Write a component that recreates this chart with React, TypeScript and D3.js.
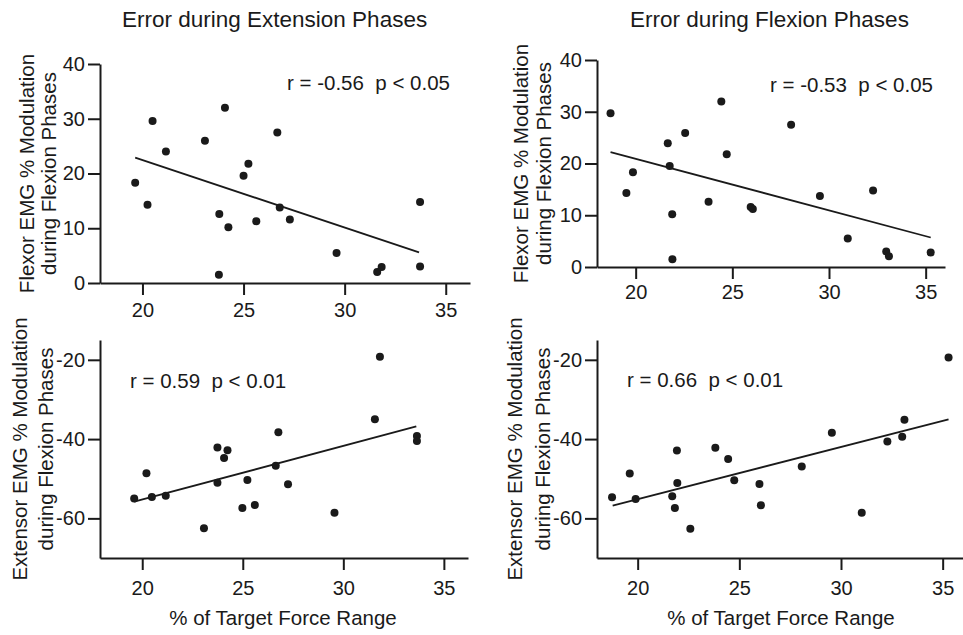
import React, { useEffect, useRef } from 'react';
import * as d3 from 'd3';

// --- data ---
const xTicks = [20, 25, 30, 35];
const flexorTicks = [0, 10, 20, 30, 40];
const extensorTicks = [-20, -40, -60];

// error during extension phases vs flexor EMG
const extFlexorX = [19.64, 20.25, 20.5, 21.16, 23.09, 23.8, 24.08, 24.25, 23.78, 25.0, 25.24, 25.63, 26.67, 26.79, 27.29, 29.6, 31.61, 31.83, 33.73, 33.73];
const extFlexorY = [18.3, 14.3, 29.6, 24.0, 26.0, 12.6, 32.0, 10.2, 1.5, 19.6, 21.8, 11.3, 27.5, 13.8, 11.6, 5.5, 2.0, 2.9, 14.8, 3.0];
const extFlexorFitX = [19.64, 33.68];
const extFlexorFitY = [22.9, 5.6];

// error during flexion phases vs flexor EMG
const flexFlexorX = [18.7, 19.52, 19.86, 21.66, 21.76, 21.89, 21.9, 22.56, 23.77, 24.43, 24.71, 25.95, 26.06, 28.04, 29.53, 30.97, 32.28, 32.96, 33.1, 35.26];
const flexFlexorY = [29.7, 14.3, 18.3, 23.9, 19.5, 10.2, 1.5, 25.9, 12.6, 32.0, 21.8, 11.6, 11.2, 27.5, 13.7, 5.5, 14.8, 3.0, 2.1, 2.8];
const flexFlexorFitX = [18.7, 35.26];
const flexFlexorFitY = [22.2, 5.7];

// error during extension phases vs extensor EMG
const extExtensorX = [19.6, 20.21, 20.48, 21.17, 23.07, 23.74, 23.74, 24.07, 24.24, 24.98, 25.23, 25.6, 26.64, 26.77, 27.25, 29.56, 31.57, 31.82, 33.66, 33.66];
const extExtensorY = [-55.0, -48.6, -54.6, -54.3, -62.5, -42.1, -51.0, -44.8, -42.8, -57.4, -50.3, -56.6, -46.7, -38.3, -51.4, -58.6, -35.0, -19.2, -39.2, -40.5];
const extExtensorFitX = [19.6, 33.63];
const extExtensorFitY = [-55.8, -36.8];

// error during flexion phases vs extensor EMG
const flexExtensorX = [18.74, 19.61, 19.9, 21.7, 21.83, 21.93, 21.95, 22.59, 23.82, 24.45, 24.75, 25.99, 26.06, 28.07, 29.55, 31.02, 32.28, 33.01, 33.12, 35.29];
const flexExtensorY = [-54.7, -48.7, -55.1, -54.4, -57.4, -42.9, -51.1, -62.6, -42.2, -45.0, -50.4, -51.3, -56.7, -46.9, -38.4, -58.6, -40.6, -39.4, -35.1, -19.4];
const flexExtensorFitX = [18.77, 35.29];
const flexExtensorFitY = [-56.8, -35.0];

const titles = ['Error during Extension Phases', 'Error during Flexion Phases'];
const flexorLabel = ['Flexor EMG % Modulation', 'during Flexion Phases'];
const extensorLabel = ['Extensor EMG % Modulation', 'during Flexion Phases'];
const xLabel = '% of Target Force Range';
const stats = ['r = -0.56  p < 0.05', 'r = -0.53  p < 0.05', 'r = 0.59  p < 0.01', 'r = 0.66  p < 0.01'];

const FONT = '"Liberation Sans", Arial, sans-serif';
const INK = '#1a1a1a';

// layout of each panel
const panels = [
  { xs: extFlexorX, ys: extFlexorY, fx: extFlexorFitX, fy: extFlexorFitY, yTicks: flexorTicks,
    xDomain: [17.9, 36.2], xRange: [100, 470], yDomain: [0, 40], yRange: [283, 64], xPad: 8,
    yLabel: flexorLabel, labelX: [34, 56], stat: stats[0], statPos: [287, 90], xTitle: false },
  { xs: flexFlexorX, ys: flexFlexorY, fx: flexFlexorFitX, fy: flexFlexorFitY, yTicks: flexorTicks,
    xDomain: [18, 36], xRange: [597, 945], yDomain: [0, 40], yRange: [267, 60], xPad: 6,
    yLabel: flexorLabel, labelX: [528, 551], stat: stats[1], statPos: [770, 92], xTitle: false },
  { xs: extExtensorX, ys: extExtensorY, fx: extExtensorFitX, fy: extExtensorFitY, yTicks: extensorTicks,
    xDomain: [17.9, 36.2], xRange: [100, 468], yDomain: [-70, -15], yRange: [558, 340], xPad: 11,
    yLabel: extensorLabel, labelX: [27, 53], stat: stats[2], statPos: [130, 388], xTitle: true },
  { xs: flexExtensorX, ys: flexExtensorY, fx: flexExtensorFitX, fy: flexExtensorFitY, yTicks: extensorTicks,
    xDomain: [18, 36], xRange: [597, 963], yDomain: [-70, -15], yRange: [558, 340], xPad: 11,
    yLabel: extensorLabel, labelX: [522, 550], stat: stats[3], statPos: [627, 387], xTitle: true },
];

export default function App() {
  const ref = useRef<SVGSVGElement | null>(null);

  useEffect(() => {
    const svg = d3.select(ref.current);
    svg.selectAll('*').remove();

    svg.selectAll('text.title')
      .data(titles)
      .enter()
      .append('text')
      .attr('class', 'title')
      .attr('x', (d, i) => (i === 0 ? 122 : 630))
      .attr('y', 27)
      .attr('font-size', 22.5)
      .attr('font-family', FONT)
      .attr('fill', INK)
      .text((d) => d);

    panels.forEach((p) => {
      const x = d3.scaleLinear().domain(p.xDomain).range(p.xRange);
      const y = d3.scaleLinear().domain(p.yDomain).range(p.yRange);
      const g = svg.append('g');

      const xAxis = g.append('g')
        .attr('transform', `translate(0,${p.yRange[0]})`)
        .call(d3.axisBottom(x).tickValues(xTicks).tickSize(12).tickSizeOuter(0).tickPadding(p.xPad).tickFormat((d) => String(d)));
      const yAxis = g.append('g')
        .attr('transform', `translate(${p.xRange[0]},0)`)
        .call(d3.axisLeft(y).tickValues(p.yTicks).tickSize(12).tickSizeOuter(0).tickPadding(3).tickFormat((d) => String(d)));

      [xAxis, yAxis].forEach((a) => {
        a.selectAll('path, line').attr('stroke', INK).attr('stroke-width', 2);
        a.selectAll('text').attr('font-size', 20).attr('font-family', FONT).attr('fill', INK);
      });

      g.append('line')
        .attr('x1', x(p.fx[0])).attr('y1', y(p.fy[0]))
        .attr('x2', x(p.fx[1])).attr('y2', y(p.fy[1]))
        .attr('stroke', INK)
        .attr('stroke-width', 1.8);

      g.selectAll('circle')
        .data(p.xs.map((v, i) => [v, p.ys[i]]))
        .enter()
        .append('circle')
        .attr('cx', (d) => x(d[0]))
        .attr('cy', (d) => y(d[1]))
        .attr('r', 4)
        .attr('fill', INK);

      const midY = (p.yRange[0] + p.yRange[1]) / 2;
      p.yLabel.forEach((line, i) => {
        g.append('text')
          .attr('transform', `translate(${p.labelX[i]},${midY}) rotate(-90)`)
          .attr('text-anchor', 'middle')
          .attr('font-size', 20.5)
          .attr('font-family', FONT)
          .attr('fill', INK)
          .text(line);
      });

      g.append('text')
        .attr('x', p.statPos[0])
        .attr('y', p.statPos[1])
        .attr('font-size', 20.5)
        .attr('font-family', FONT)
        .attr('fill', INK)
        .style('white-space', 'pre')
        .text(p.stat);

      if (p.xTitle) {
        g.append('text')
          .attr('x', p.xRange[0] > 500 ? 781 : 283)
          .attr('y', 625)
          .attr('text-anchor', 'middle')
          .attr('font-size', 20.5)
          .attr('font-family', FONT)
          .attr('fill', INK)
          .text(xLabel);
      }
    });
  }, []);

  return (
    <svg
      ref={ref}
      width={963}
      height={635}
      style={{ position: 'absolute', left: 0, top: 0, background: '#fff' }}
    />
  );
}
